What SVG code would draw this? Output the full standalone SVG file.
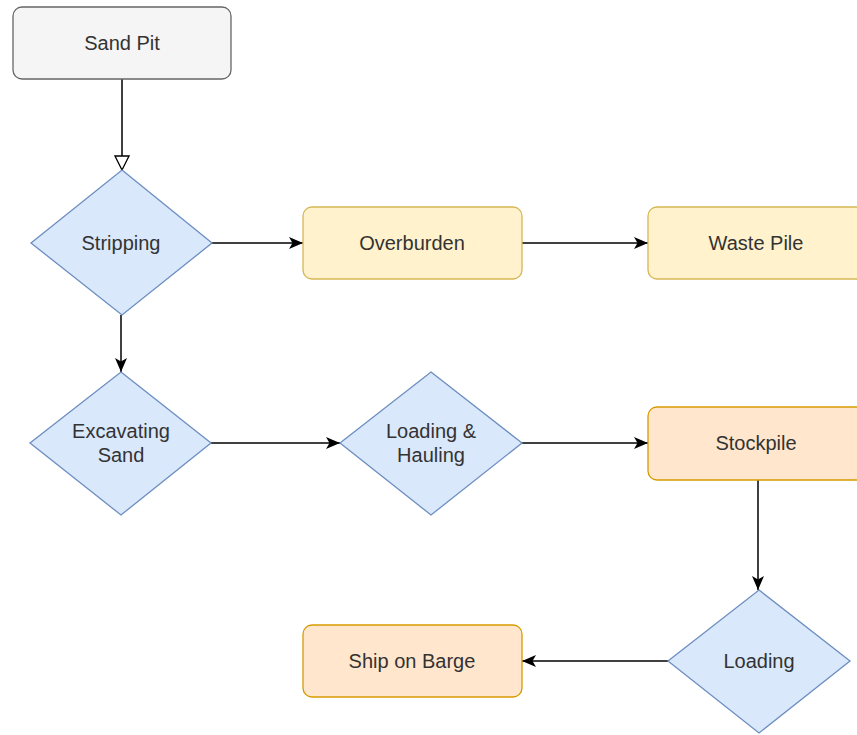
<svg xmlns="http://www.w3.org/2000/svg" width="857" height="735" viewBox="0 0 857 735">
<defs>
<style>
.lbl{font-family:"Liberation Sans",Arial,sans-serif;font-size:20px;fill:#333333;text-anchor:middle;dominant-baseline:central}
.gray{fill:#f5f5f5;stroke:#666666;stroke-width:1.3}
.blue{fill:#dae8fc;stroke:#6c8ebf;stroke-width:1.3}
.yel{fill:#fff2cc;stroke:#d6b656;stroke-width:1.3}
.org{fill:#ffe6cc;stroke:#d79b00;stroke-width:1.3}
.edge{fill:none;stroke:#000000;stroke-width:1.5}
</style>
<marker id="arr" markerUnits="userSpaceOnUse" markerWidth="16" markerHeight="14" refX="14" refY="7" orient="auto" viewBox="0 0 16 14">
<path d="M0,1 L14,7 L0,13 L3.5,7 Z" fill="#000000"/>
</marker>
<marker id="tri" markerUnits="userSpaceOnUse" markerWidth="16" markerHeight="16" refX="15" refY="8" orient="auto" viewBox="0 0 16 16">
<path d="M1,1 L15,8 L1,15 Z" fill="#ffffff" stroke="#000000" stroke-width="1.3"/>
</marker>
</defs>
<rect width="857" height="735" fill="#ffffff"/>
<g id="connectors">
<line class="edge" x1="122" y1="79" x2="122" y2="170" marker-end="url(#tri)"/>
<line class="edge" x1="212" y1="243" x2="303" y2="243" marker-end="url(#arr)"/>
<line class="edge" x1="522" y1="243" x2="648" y2="243" marker-end="url(#arr)"/>
<line class="edge" x1="121" y1="315" x2="121" y2="372" marker-end="url(#arr)"/>
<line class="edge" x1="211" y1="443" x2="340" y2="443" marker-end="url(#arr)"/>
<line class="edge" x1="522" y1="443" x2="648" y2="443" marker-end="url(#arr)"/>
<line class="edge" x1="758" y1="480" x2="758" y2="590" marker-end="url(#arr)"/>
<line class="edge" x1="668" y1="661" x2="522" y2="661" marker-end="url(#arr)"/>
</g>
<g id="sand-pit">
<rect class="gray" x="13" y="7" width="218" height="72" rx="9"/>
<text class="lbl" x="122" y="43">Sand Pit</text>
</g>
<g id="stripping">
<polygon class="blue" points="122,170 212,243 122,315 31,243"/>
<text class="lbl" x="121" y="243">Stripping</text>
</g>
<g id="overburden">
<rect class="yel" x="303" y="207" width="219" height="72" rx="9"/>
<text class="lbl" x="412" y="243">Overburden</text>
</g>
<g id="waste-pile">
<rect class="yel" x="648" y="207" width="230" height="72" rx="9"/>
<text class="lbl" x="756" y="243">Waste Pile</text>
</g>
<g id="excavating-sand">
<polygon class="blue" points="121,372 211,443 121,515 30,443"/>
<text class="lbl" x="121" y="431">Excavating</text>
<text class="lbl" x="121" y="455">Sand</text>
</g>
<g id="loading-hauling">
<polygon class="blue" points="431,372 522,443 431,515 340,443"/>
<text class="lbl" x="431" y="431">Loading &amp;</text>
<text class="lbl" x="431" y="455">Hauling</text>
</g>
<g id="stockpile">
<rect class="org" x="648" y="407" width="230" height="73" rx="9"/>
<text class="lbl" x="756" y="443">Stockpile</text>
</g>
<g id="loading">
<polygon class="blue" points="759,590 850,661 759,733 668,661"/>
<text class="lbl" x="759" y="661">Loading</text>
</g>
<g id="ship-on-barge">
<rect class="org" x="303" y="625" width="219" height="72" rx="9"/>
<text class="lbl" x="412" y="661">Ship on Barge</text>
</g>
</svg>
